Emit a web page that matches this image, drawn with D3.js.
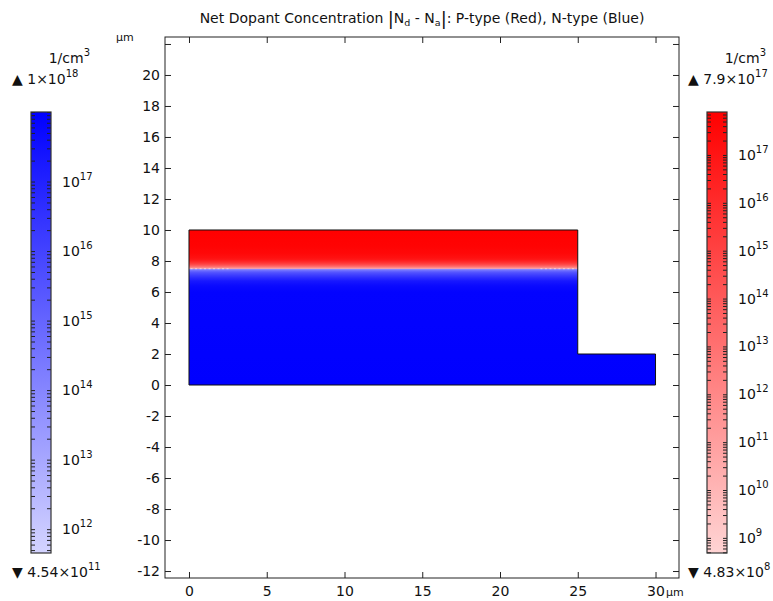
<!DOCTYPE html>
<html>
<head>
<meta charset="utf-8">
<script src="https://cdn.jsdelivr.net/npm/d3@7"></script>
<style>
  html, body { margin: 0; padding: 0; background: #fff; }
  text { font-family: "DejaVu Sans", sans-serif; fill: #111; }
</style>
</head>
<body>
<svg id="chart" width="773" height="601"></svg>
<script>
// ---------------- data ----------------
// Device geometry (µm): outline polygon vertices
const outlineX = [0, 0, 25, 25, 30, 30];
const outlineY = [0, 10, 10, 2, 2, 0];

// Net doping profile along depth y (µm); negative = P-type (red), positive = N-type (blue), 1/cm^3
const profileY = [10, 9.0, 8.5, 8.2, 8.06, 7.92, 7.8, 7.7, 7.61, 7.52, 7.49, 7.44, 7.36, 7.24, 7.08, 6.9, 6.7, 6.4, 6.0, 0];
const profileN = [-7.9e17, -6e17, -3.5e17, -1.5e17, -6e16, -8e15, -1e15, -8e13, -5e12, -1e11, 3e13, 1.5e14, 8e14, 4e15, 1.5e16, 6e16, 2e17, 5e17, 8e17, 1e18];

// Axis ticks
const xTicks = [0, 5, 10, 15, 20, 25, 30];
const yTicks = [-12, -10, -8, -6, -4, -2, 0, 2, 4, 6, 8, 10, 12, 14, 16, 18, 20, 22];
const yTickLabels = [-12, -10, -8, -6, -4, -2, 0, 2, 4, 6, 8, 10, 12, 14, 16, 18, 20];

// Colour legends
const nRange = [4.54e11, 1e18];          // N-type (blue)
const nRangeLabels = ["4.54", "11", "1", "18"];
const nDecades = [12, 13, 14, 15, 16, 17];
const pRange = [4.83e8, 7.9e17];         // P-type (red)
const pRangeLabels = ["4.83", "8", "7.9", "17"];
const pDecades = [9, 10, 11, 12, 13, 14, 15, 16, 17];

const blueColors = ["#d4d4ff", "#0000ff"];
const redColors = ["#ffd4d4", "#ff0000"];

// ---------------- drawing ----------------
const svg = d3.select("#chart");
const defs = svg.append("defs");

const x = d3.scaleLinear().domain([-1.543, 31.51]).range([165, 679]);
const y = d3.scaleLinear().domain([-12.45, 22.45]).range([578, 37]);

const blueScale = d3.scaleLinear().domain(nRange.map(Math.log10)).range(blueColors).clamp(true);
const redScale = d3.scaleLinear().domain(pRange.map(Math.log10)).range(redColors).clamp(true);
function colorOf(v) {
  if (v > 0) return blueScale(Math.log10(v));
  if (v < 0) return redScale(Math.log10(-v));
  return "#f6f0f8";
}

// Title
const title = svg.append("text").attr("x", 422).attr("y", 23)
  .attr("text-anchor", "middle").style("font-size", "14px");
title.append("tspan").text("Net Dopant Concentration ");
title.append("tspan").text("|").style("font-size", "18px").attr("dy", 2);
title.append("tspan").text("N").attr("dy", -2);
title.append("tspan").text("d").style("font-size", "9.5px").attr("dy", 3);
title.append("tspan").text(" - N").attr("dy", -3);
title.append("tspan").text("a").style("font-size", "9.5px").attr("dy", 3);
title.append("tspan").text("|").style("font-size", "18px").attr("dy", -1);
title.append("tspan").text(": P-type (Red), N-type (Blue)").attr("dy", -2);

// Field gradient
const grad = defs.append("linearGradient").attr("id", "fieldGrad")
  .attr("gradientUnits", "userSpaceOnUse")
  .attr("x1", 0).attr("x2", 0)
  .attr("y1", y(profileY[0])).attr("y2", y(profileY[profileY.length - 1]));
const span = y(profileY[profileY.length - 1]) - y(profileY[0]);
profileY.forEach((d, i) => {
  grad.append("stop")
    .attr("offset", (y(d) - y(profileY[0])) / span)
    .attr("stop-color", colorOf(profileN[i]));
});

const outlinePts = outlineX.map((d, i) => [x(d), y(outlineY[i])]);
const line = d3.line();
defs.append("clipPath").attr("id", "devClip")
  .append("path").attr("d", line(outlinePts) + "Z");

svg.append("rect")
  .attr("clip-path", "url(#devClip)")
  .attr("x", x(0)).attr("y", y(10))
  .attr("width", x(30) - x(0)).attr("height", y(0) - y(10))
  .attr("fill", "url(#fieldGrad)");

// faint junction artefacts
[[0.1, 2.6], [22.6, 24.9]].forEach(seg => {
  svg.append("line")
    .attr("x1", x(seg[0])).attr("x2", x(seg[1]))
    .attr("y1", y(7.5)).attr("y2", y(7.5))
    .attr("stroke", "#ffffff").attr("stroke-opacity", 0.5)
    .attr("stroke-width", 1.2).attr("stroke-dasharray", "2,2.5");
});

svg.append("path").attr("d", line(outlinePts) + "Z")
  .attr("fill", "none").attr("stroke", "#111").attr("stroke-width", 1);

// Axes
function styleAxis(g) {
  g.select(".domain").remove();
  g.selectAll(".tick line").attr("stroke", "#222");
  g.selectAll(".tick text").style("font-size", "14px").style("font-family", "DejaVu Sans").attr("fill", "#111");
}
svg.append("g").attr("transform", `translate(0,${y.range()[0]})`)
  .call(d3.axisBottom(x).tickValues(xTicks).tickSize(-6).tickPadding(8).tickFormat(d3.format("d")))
  .call(styleAxis);
svg.append("g").attr("transform", `translate(0,${y.range()[1]})`)
  .call(d3.axisTop(x).tickValues(xTicks).tickSize(-6).tickFormat(""))
  .call(styleAxis);
svg.append("g").attr("transform", `translate(${x.range()[0]},0)`)
  .call(d3.axisLeft(y).tickValues(yTicks).tickSize(-6).tickPadding(5)
    .tickFormat(d => yTickLabels.includes(d) ? d3.format("d")(d).replace("−", "-") : ""))
  .call(styleAxis);
svg.append("g").attr("transform", `translate(${x.range()[1]},0)`)
  .call(d3.axisRight(y).tickValues(yTicks).tickSize(-6).tickFormat(""))
  .call(styleAxis);

svg.append("rect")
  .attr("x", x.range()[0]).attr("y", y.range()[1])
  .attr("width", x.range()[1] - x.range()[0]).attr("height", y.range()[0] - y.range()[1])
  .attr("fill", "none").attr("stroke", "#222").attr("stroke-width", 1);

// Unit labels
svg.append("text").attr("x", 116).attr("y", 41).style("font-size", "11px").text("µm");
svg.append("text").attr("x", 666).attr("y", 596).style("font-size", "11px").text("µm");

// Colour legends
function legend(x0, range, colors, decades, labels, id) {
  const top = 112, bottom = 553, w = 20;
  const s = d3.scaleLog().domain(range).range([bottom, top]);
  const g = defs.append("linearGradient").attr("id", id)
    .attr("x1", 0).attr("x2", 0).attr("y1", 1).attr("y2", 0);
  g.append("stop").attr("offset", 0).attr("stop-color", colors[0]);
  g.append("stop").attr("offset", 1).attr("stop-color", colors[1]);
  svg.append("rect").attr("x", x0).attr("y", top).attr("width", w).attr("height", bottom - top)
    .attr("fill", `url(#${id})`);
  const ticks = s.ticks();
  svg.append("g").attr("transform", `translate(${x0},0)`)
    .call(d3.axisLeft(s).tickValues(ticks).tickSize(-4).tickFormat(""))
    .call(g2 => { g2.select(".domain").remove(); g2.selectAll(".tick line").attr("stroke", "#222"); });
  svg.append("g").attr("transform", `translate(${x0 + w},0)`)
    .call(d3.axisRight(s).tickValues(ticks).tickSize(-4).tickFormat(""))
    .call(g2 => { g2.select(".domain").remove(); g2.selectAll(".tick line").attr("stroke", "#222"); });
  svg.append("rect").attr("x", x0).attr("y", top).attr("width", w).attr("height", bottom - top)
    .attr("fill", "none").attr("stroke", "#333").attr("stroke-width", 1.2);
  decades.forEach(dec => {
    const t = svg.append("text").attr("x", x0 + w + 11).attr("y", s(Math.pow(10, dec)) + 5)
      .style("font-size", "14px");
    t.append("tspan").text("10");
    t.append("tspan").text(dec).style("font-size", "10px").attr("dy", -7);
  });
  // unit
  const u = svg.append("text").attr("x", x0 + w + 39).attr("y", 63)
    .attr("text-anchor", "end").style("font-size", "14px");
  u.append("tspan").text("1/cm");
  u.append("tspan").text("3").style("font-size", "10px").attr("dy", -7);
  // max
  const mx = svg.append("text").attr("x", x0 - 19).attr("y", 84).style("font-size", "14px");
  mx.append("tspan").text("▲ ");
  mx.append("tspan").text(labels[2] + "×10");
  mx.append("tspan").text(labels[3]).style("font-size", "10px").attr("dy", -7);
  // min
  const mn = svg.append("text").attr("x", x0 - 19).attr("y", 577).style("font-size", "14px");
  mn.append("tspan").text("▼ ");
  mn.append("tspan").text(labels[0] + "×10");
  mn.append("tspan").text(labels[1]).style("font-size", "10px").attr("dy", -7);
}
legend(31, nRange, blueColors, nDecades, nRangeLabels, "blueGrad");
legend(707, pRange, redColors, pDecades, pRangeLabels, "redGrad");
</script>
</body>
</html>
